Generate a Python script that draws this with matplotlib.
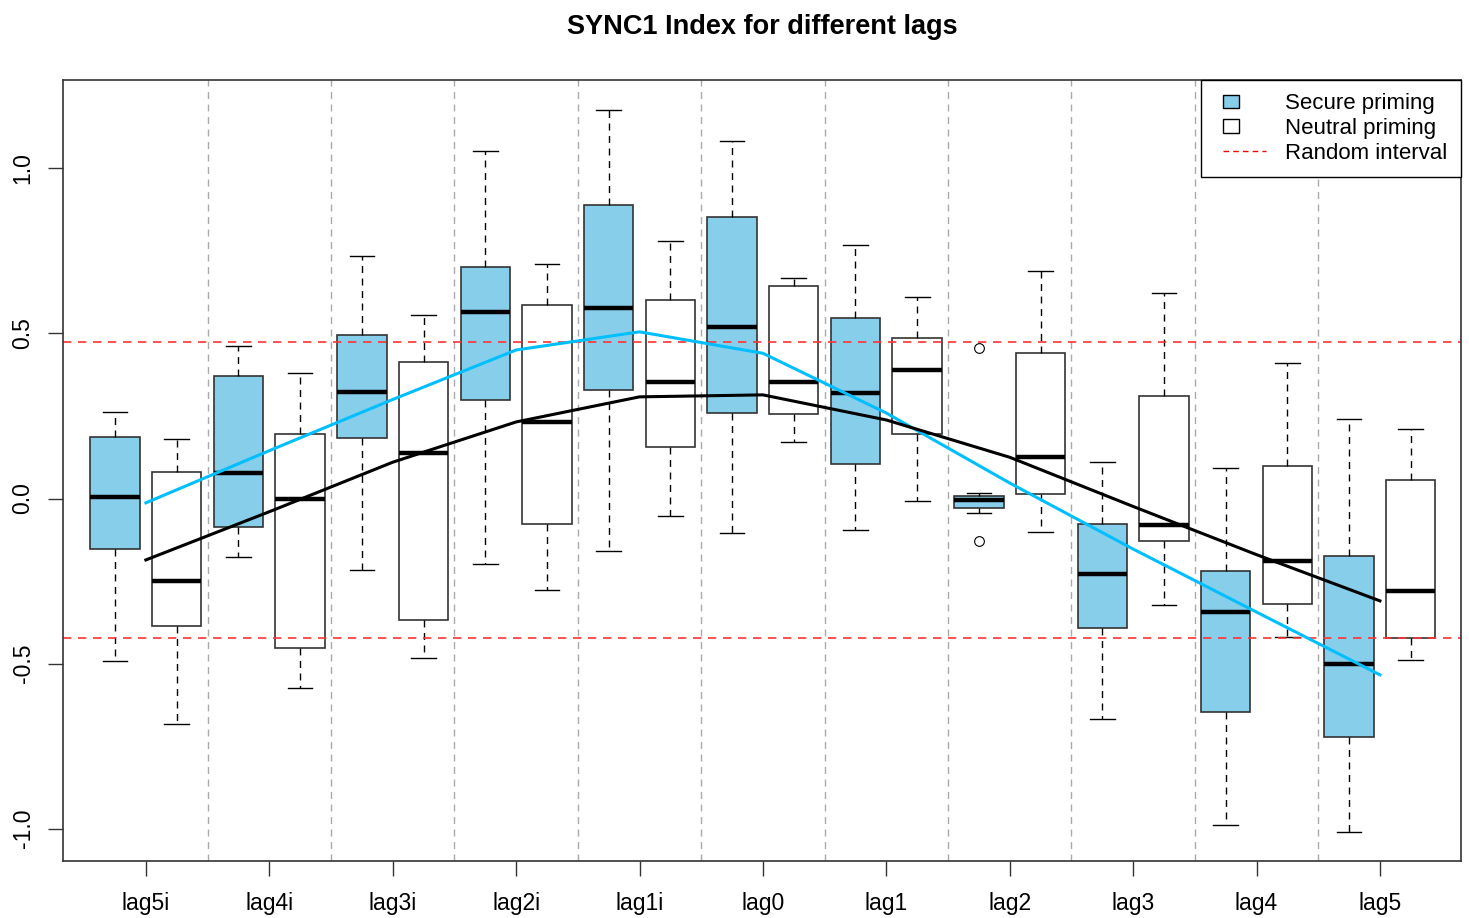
import matplotlib.pyplot as plt
from matplotlib.patches import Patch, Rectangle
from matplotlib.lines import Line2D

plt.rcParams['font.family'] = ['Liberation Sans', 'DejaVu Sans']

lags = ['lag5i', 'lag4i', 'lag3i', 'lag2i', 'lag1i', 'lag0',
        'lag1', 'lag2', 'lag3', 'lag4', 'lag5']

# secure priming box stats (whislo, q1, med, q3, whishi)
sec_lo = [-0.492, -0.177, -0.216, -0.198, -0.160, -0.104, -0.095, -0.043, -0.669, -0.988, -1.010]
sec_q1 = [-0.152, -0.086, 0.182, 0.300, 0.328, 0.258, 0.104, -0.030, -0.393, -0.647, -0.721]
sec_med = [0.005, 0.078, 0.324, 0.566, 0.578, 0.519, 0.319, -0.005, -0.229, -0.345, -0.502]
sec_q3 = [0.185, 0.370, 0.496, 0.700, 0.889, 0.854, 0.548, 0.009, -0.078, -0.221, -0.173]
sec_hi = [0.263, 0.462, 0.735, 1.053, 1.177, 1.084, 0.768, 0.018, 0.112, 0.091, 0.242]
sec_out = [[], [], [], [], [], [], [], [0.457, -0.130], [], [], []]

# neutral priming box stats
neu_lo = [-0.682, -0.574, -0.483, -0.277, -0.052, 0.172, -0.008, -0.102, -0.323, -0.420, -0.488]
neu_q1 = [-0.387, -0.454, -0.368, -0.078, 0.155, 0.255, 0.195, 0.014, -0.129, -0.320, -0.422]
neu_med = [-0.250, 0.000, 0.139, 0.233, 0.354, 0.354, 0.389, 0.126, -0.079, -0.190, -0.280]
neu_q3 = [0.081, 0.195, 0.415, 0.586, 0.600, 0.644, 0.487, 0.442, 0.310, 0.100, 0.055]
neu_hi = [0.181, 0.380, 0.556, 0.709, 0.781, 0.669, 0.609, 0.690, 0.622, 0.410, 0.212]

# mean curves drawn at each lag
sec_mean = [-0.013, 0.145, 0.300, 0.450, 0.505, 0.440, 0.259, 0.047, -0.153, -0.344, -0.534]
neu_mean = [-0.186, -0.040, 0.110, 0.232, 0.308, 0.314, 0.238, 0.125, -0.024, -0.170, -0.310]

rand_upper = 0.475
rand_lower = -0.423


def make_stats(lo, q1, med, q3, hi, out=None):
    stats = []
    for i in range(len(lo)):
        stats.append(dict(whislo=lo[i], q1=q1[i], med=med[i], q3=q3[i],
                          whishi=hi[i], fliers=out[i] if out else []))
    return stats


class RKey:
    """legend key drawn like R's legend(): small square or short dashed line"""
    def __init__(self, offset=6.5):
        self.offset = offset

    def legend_artist(self, legend, orig_handle, fontsize, handlebox):
        x0, y0 = -handlebox.xdescent, -handlebox.ydescent
        w, h = handlebox.width, handlebox.height
        if isinstance(orig_handle, Patch):
            sw, sh = 11.5, 10
            art = Rectangle((x0 + self.offset, y0 + (h - sh) / 2), sw, sh,
                            facecolor=orig_handle.get_facecolor(),
                            edgecolor='black', lw=1,
                            transform=handlebox.get_transform())
        else:
            art = Line2D([x0 + self.offset, x0 + w], [y0 + h / 2, y0 + h / 2],
                         color=orig_handle.get_color(), lw=1,
                         ls=(0, (4, 3)), transform=handlebox.get_transform())
        handlebox.add_artist(art)
        return art


fig = plt.figure(figsize=(14.69, 9.18), dpi=100)
ax = fig.add_axes([0.0429, 0.0621, 0.9517, 0.8508])

n = len(lags)
sec_pos = [2 * i + 1 for i in range(n)]
neu_pos = [2 * i + 2 for i in range(n)]
tick_pos = [2 * i + 1.5 for i in range(n)]

# group separators
for i in range(n - 1):
    ax.axvline(2 * i + 2.5, color='#aaaaaa', lw=1, ls=(0, (5, 4)), zorder=0)

common = dict(widths=0.8, capwidths=0.4, patch_artist=True,
              whiskerprops=dict(color='black', lw=1, ls=(0, (5, 4))),
              capprops=dict(color='black', lw=1),
              medianprops=dict(color='black', lw=3.2, solid_capstyle='butt'),
              flierprops=dict(marker='o', markerfacecolor='white',
                              markeredgecolor='black', markersize=7, markeredgewidth=0.8))

ax.bxp(make_stats(sec_lo, sec_q1, sec_med, sec_q3, sec_hi, sec_out),
       positions=sec_pos, boxprops=dict(facecolor='#87CEEB', edgecolor='#333333', lw=1.2),
       **common)
ax.bxp(make_stats(neu_lo, neu_q1, neu_med, neu_q3, neu_hi),
       positions=neu_pos, boxprops=dict(facecolor='white', edgecolor='#333333', lw=1.2),
       **common)

ax.axhline(rand_upper, color='#ff3333', lw=1.2, ls=(0, (5, 4)))
ax.axhline(rand_lower, color='#ff3333', lw=1.2, ls=(0, (5, 4)))

ax.plot(tick_pos, sec_mean, color='#00bfff', lw=2.2, zorder=5)
ax.plot(tick_pos, neu_mean, color='black', lw=2.2, zorder=5)

ax.set_xlim(0.157, 22.815)
ax.set_ylim(-1.098, 1.268)
ax.set_xticks(tick_pos)
ax.set_xticklabels(lags, fontsize=16.5)
ax.set_yticks([-1.0, -0.5, 0.0, 0.5, 1.0])
ax.set_yticklabels(['-1.0', '-0.5', '0.0', '0.5', '1.0'], fontsize=16.5,
                   rotation=90, va='center')
ax.tick_params(axis='both', length=10.5, width=1, color='#333333')
ax.tick_params(axis='x', pad=12)
ax.tick_params(axis='y', pad=10)
for s in ax.spines.values():
    s.set_color('#333333')
    s.set_linewidth(1.2)

ax.set_title('SYNC1 Index for different lags', fontsize=19.5, fontweight='bold', pad=33)

handles = [Patch(facecolor='#87CEEB', edgecolor='black', lw=1),
           Patch(facecolor='white', edgecolor='black', lw=1),
           Line2D([], [], color='red', lw=1, ls=(0, (4, 3)))]
key = RKey()
leg = ax.legend(handles, ['Secure priming', 'Neutral priming', 'Random interval'],
                loc='upper right', borderaxespad=0, fancybox=False, fontsize=16,
                handlelength=2.34, handleheight=0.7, labelspacing=0.17,
                handletextpad=0.86, borderpad=0.6, framealpha=1,
                handler_map={Patch: key, Line2D: key})
leg.get_frame().set_edgecolor('black')
leg.get_frame().set_linewidth(1)

fig.savefig('out.png', dpi=100)
